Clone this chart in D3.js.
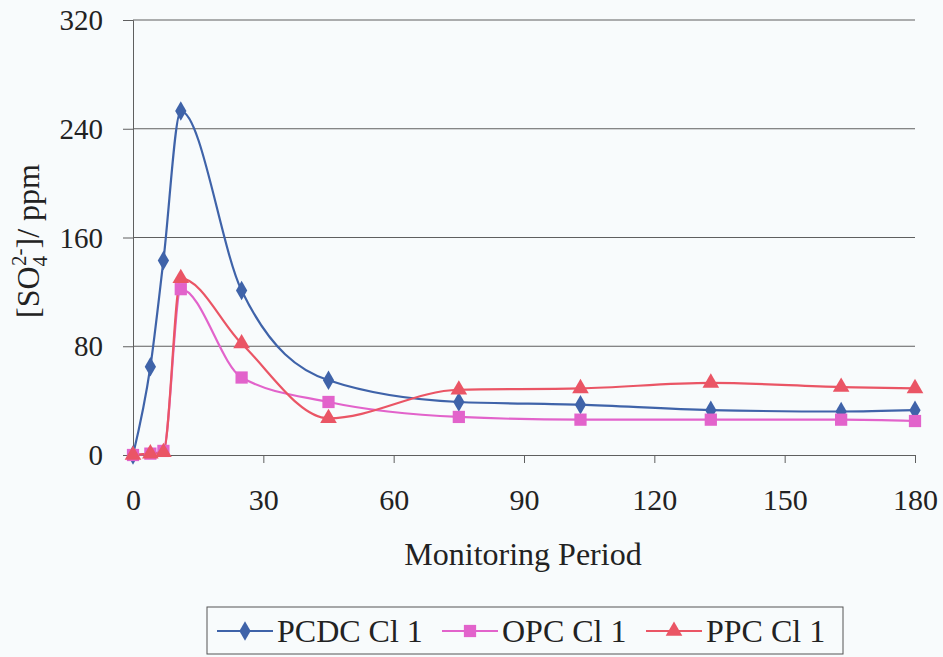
<!DOCTYPE html>
<html>
<head>
<meta charset="utf-8">
<script src="https://cdn.jsdelivr.net/npm/d3@7"></script>
<style>
  body { margin: 0; background: #f8fbfc; }
  svg { display: block; }
  text { font-family: "Liberation Serif", "Times New Roman", serif; fill: #222; }
</style>
</head>
<body>
<div id="chart"></div>
<script>
// monitoring days and sulphate readings
var days = [0, 4, 7, 11, 25, 45, 75, 103, 133, 163, 180];
var pcdc = [0, 65, 143, 253, 121, 55, 39, 37, 33, 32, 33];
var opc  = [0, 1, 3, 122, 57, 39, 28, 26, 26, 26, 25];
var ppc  = [0, 1, 2, 130, 82, 27, 48, 49, 53, 50, 49];
var xTicks = [0, 30, 60, 90, 120, 150, 180];
var yTicks = [0, 80, 160, 240, 320];
var seriesNames = ["PCDC Cl 1", "OPC Cl 1", "PPC Cl 1"];

function init(){
  var w = 943, h = 657;

  var series = [
    {name: seriesNames[0], values: pcdc, color: "#3f63a9", shape: d3.symbolDiamond, size: 110},
    {name: seriesNames[1], values: opc,  color: "#e263cb", shape: d3.symbolSquare,  size: 150},
    {name: seriesNames[2], values: ppc,  color: "#ea5565", shape: d3.symbolTriangle, size: 120}
  ];

  var svg = d3.select("#chart").append("svg")
    .attr("width", w).attr("height", h);

  var xScale = d3.scaleLinear().domain([0, 180]).range([133, 915]);
  var yScale = d3.scaleLinear().domain([0, 320]).range([455, 20]);

  // gridlines
  svg.append("g").selectAll("line")
    .data(yTicks.filter(function(d){ return d > 0; }))
    .enter().append("line")
    .attr("x1", xScale(0)).attr("x2", xScale(180))
    .attr("y1", function(d){ return yScale(d); })
    .attr("y2", function(d){ return yScale(d); })
    .attr("stroke", "#5f5f5f").attr("stroke-width", 1);

  // axes
  var xAxis = d3.axisBottom(xScale).tickValues(xTicks).tickSize(8);
  var gx = svg.append("g")
    .attr("transform", "translate(0," + yScale(0) + ")")
    .call(xAxis);
  var yAxis = d3.axisLeft(yScale).tickValues(yTicks).tickSize(10).tickPadding(20);
  var gy = svg.append("g")
    .attr("transform", "translate(" + xScale(0) + ",0)")
    .call(yAxis);

  [gx, gy].forEach(function(g){
    g.select(".domain").attr("stroke", "#5f5f5f");
    g.selectAll(".tick line").attr("stroke", "#5f5f5f");
    g.selectAll(".tick text")
      .style("font-family", "Liberation Serif")
      .attr("fill", "#222");
  });
  gy.selectAll(".tick text").style("font-size", "29px").attr("dy", "0.33em");
  gx.selectAll(".tick text").style("font-size", "30px").attr("y", 55).attr("dy", 0);

  // axis titles
  svg.append("text")
    .attr("x", 523).attr("y", 565)
    .attr("text-anchor", "middle")
    .style("font-size", "32px")
    .text("Monitoring Period");

  var yl = svg.append("text")
    .attr("transform", "translate(39,241) rotate(-90)")
    .attr("text-anchor", "middle")
    .style("font-size", "32px");
  yl.append("tspan").text("[SO");
  yl.append("tspan").attr("font-size", "21px").attr("dy", "8").text("4");
  yl.append("tspan").attr("font-size", "21px").attr("dy", "-21").attr("dx", "-10").text("2-");
  yl.append("tspan").attr("dy", "13").text("]/ ppm");

  // lines
  var line = d3.line()
    .x(function(d){ return xScale(d[0]); })
    .y(function(d){ return yScale(d[1]); })
    .curve(d3.curveMonotoneX);

  series.forEach(function(s){
    var pts = days.map(function(d, i){ return [d, s.values[i]]; });
    svg.append("path")
      .datum(pts)
      .attr("fill", "none")
      .attr("stroke", s.color)
      .attr("stroke-width", 2.2)
      .attr("d", line);
  });

  series.forEach(function(s){
    var pts = days.map(function(d, i){ return [d, s.values[i]]; });
    svg.append("g").selectAll("path")
      .data(pts).enter().append("path")
      .attr("d", d3.symbol().type(s.shape).size(s.size))
      .attr("transform", function(d){
        return "translate(" + xScale(d[0]) + "," + yScale(d[1]) + ")";
      })
      .attr("fill", s.color);
  });

  // legend
  var lg = svg.append("g");
  lg.append("rect")
    .attr("x", 207).attr("y", 607).attr("width", 636).attr("height", 47)
    .attr("fill", "none").attr("stroke", "#555").attr("stroke-width", 1);
  var itemX = [217, 442, 646];
  series.forEach(function(s, i){
    var g = lg.append("g").attr("transform", "translate(" + itemX[i] + ",631)");
    g.append("line").attr("x1", 0).attr("x2", 56)
      .attr("stroke", s.color).attr("stroke-width", 2.2);
    g.append("path")
      .attr("d", d3.symbol().type(s.shape).size(s.size))
      .attr("transform", "translate(28,0)")
      .attr("fill", s.color);
    g.append("text").attr("x", 60).attr("y", 11)
      .style("font-size", "32px")
      .text(s.name);
  });
}

window.onload = init;
</script>
</body>
</html>
